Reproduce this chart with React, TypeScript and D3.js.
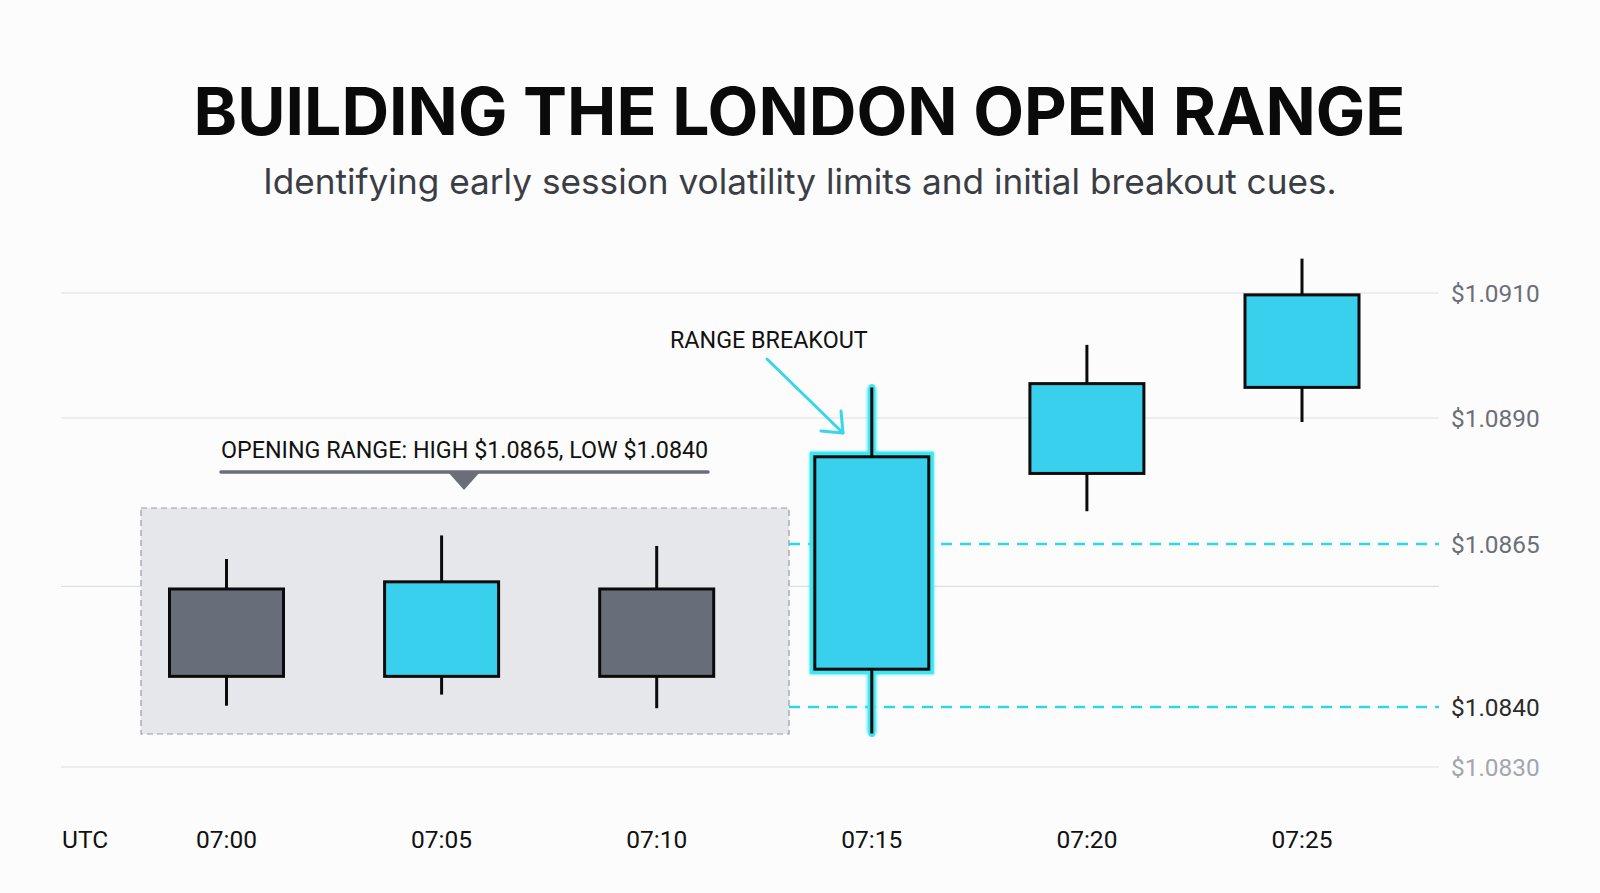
import * as d3 from "d3";

// candle data
const times = ["07:00", "07:05", "07:10", "07:15", "07:20", "07:25"];
const opens = [1.08581, 1.08447, 1.08581, 1.08458, 1.0879, 1.08949];
const closes = [1.08447, 1.08592, 1.08447, 1.08823, 1.08955, 1.09097];
const highs = [1.08627, 1.08667, 1.08647, 1.08949, 1.09017, 1.09155];
const lows = [1.08402, 1.08419, 1.08398, 1.08356, 1.08715, 1.08892];

// price labels on the right (the axis is not evenly spaced in the picture)
const priceTicks = [1.091, 1.089, 1.0865, 1.084, 1.083];
const gridValues = [1.091, 1.089, 1.08585, 1.083];
const rangeHigh = 1.0865;
const rangeLow = 1.084;
const openingCount = 3; // first three candles form the range
const breakoutIndex = 3;

const W = 1600;
const H = 893;
const CYAN = "#38d0ec";
const GREY = "#676d79";

export default function App() {
  const x = d3.scalePoint<string>().domain(times).range([226.5, 1302]);
  const y = d3
    .scaleLinear()
    .domain([1.083, 1.084, 1.0865, 1.089, 1.091])
    .range([767, 707, 544, 418, 293]);

  const bodyW = 114;
  const gridX0 = 61;
  const gridX1 = 1439;

  const boxX0 = 141;
  const boxX1 = 789;
  const boxY0 = 508;
  const boxY1 = 734;

  const bracketX0 = 221;
  const bracketX1 = 708;
  const bracketY = 472;
  const bracketMid = 464;

  const arrowStart: [number, number] = [767, 359];
  const arrowEnd: [number, number] = [843, 433];

  const fmt = (v: number) => "$" + d3.format(".4f")(v);
  const tickColor = (v: number) => (v === rangeLow ? "#2b2b2b" : v === 1.083 ? "#a3a6ad" : "#6b6f78");

  return (
    <div style={{ position: "fixed", left: 0, top: 0, width: W, height: H, background: "#fcfcfc" }}>
      <svg width={W} height={H} style={{ display: "block" }}>
        <rect width={W} height={H} fill="#fcfcfc" />
        <defs>
          <filter id="glow" x="-30%" y="-30%" width="160%" height="160%">
            <feGaussianBlur stdDeviation="1.5" />
          </filter>
        </defs>

        <text
          x={799.5}
          y={135}
          textAnchor="middle"
          fontFamily="Inter, 'Noto Sans', sans-serif"
          fontWeight={700}
          fontSize={66}
          fill="#0a0a0a"
        >
          BUILDING THE LONDON OPEN RANGE
        </text>
        <text
          x={800}
          y={194}
          textAnchor="middle"
          fontFamily="Inter, 'Noto Sans', sans-serif"
          fontSize={35.2}
          fill="#3b3d45"
        >
          Identifying early session volatility limits and initial breakout cues.
        </text>

        {/* grid */}
        {gridValues.map((v) => (
          <line key={v} x1={gridX0} x2={gridX1} y1={y(v)} y2={y(v)} stroke="#dcdde0" strokeWidth={1.2} />
        ))}

        {/* price labels */}
        {priceTicks.map((v) => (
          <text
            key={v}
            x={1451}
            y={y(v)}
            dy="0.35em"
            fontFamily="Roboto, sans-serif"
            fontSize={24.4}
            fill={tickColor(v)}
          >
            {fmt(v)}
          </text>
        ))}

        {/* opening range box */}
        <rect
          x={boxX0}
          y={boxY0}
          width={boxX1 - boxX0}
          height={boxY1 - boxY0}
          fill="#e6e7ea"
          stroke="#9a9ca3"
          strokeWidth={1.2}
          strokeDasharray="6,4"
        />

        {/* range high/low dashed lines */}
        {[rangeHigh, rangeLow].map((v) => (
          <line
            key={v}
            x1={boxX1}
            x2={gridX1}
            y1={y(v)}
            y2={y(v)}
            stroke="#2fd6e8"
            strokeWidth={2.5}
            strokeDasharray="11,8"
          />
        ))}

        {/* opening range annotation */}
        <text x={bracketX0} y={458} fontFamily="Roboto, sans-serif" fontSize={23.3} fill="#111">
          OPENING RANGE: HIGH {fmt(rangeHigh)}, LOW {fmt(rangeLow)}
        </text>
        <line x1={bracketX0} x2={bracketX1} y1={bracketY} y2={bracketY} stroke="#6b6e78" strokeWidth={3.5} strokeLinecap="round" />
        <path
          d={`M${bracketMid - 16},${bracketY} L${bracketMid + 16},${bracketY} L${bracketMid},${bracketY + 18} Z`}
          fill="#6b6e78"
        />

        {/* breakout annotation */}
        <text x={670} y={348} fontFamily="Roboto, sans-serif" fontSize={23.3} fill="#111">
          RANGE BREAKOUT
        </text>
        <g stroke="#38d6ea" strokeWidth={3} fill="none" strokeLinecap="round" strokeLinejoin="round">
          <line x1={arrowStart[0]} y1={arrowStart[1]} x2={arrowEnd[0]} y2={arrowEnd[1]} />
          <path d={`M${arrowEnd[0] - 2},${arrowEnd[1] - 22} L${arrowEnd[0]},${arrowEnd[1]} L${arrowEnd[0] - 22},${arrowEnd[1] - 2}`} />
        </g>

        {/* candles */}
        {times.map((t, i) => {
          const cx = x(t)!;
          const up = closes[i] >= opens[i];
          const top = y(Math.max(opens[i], closes[i]));
          const bot = y(Math.min(opens[i], closes[i]));
          const glow = i === breakoutIndex;
          return (
            <g key={t}>
              {glow && (
                <g stroke="#3fe6f2" fill="none" filter="url(#glow)">
                  <line x1={cx} x2={cx} y1={y(highs[i])} y2={y(lows[i])} strokeWidth={9} />
                  <rect x={cx - bodyW / 2} y={top} width={bodyW} height={bot - top} strokeWidth={10} />
                </g>
              )}
              {glow && (
                <g stroke="#3fe6f2" fill="none">
                  <line x1={cx} x2={cx} y1={y(highs[i])} y2={y(lows[i])} strokeWidth={7} strokeLinecap="round" />
                  <rect x={cx - bodyW / 2 - 1} y={top - 1} width={bodyW + 2} height={bot - top + 2} strokeWidth={8} />
                </g>
              )}
              <line x1={cx} x2={cx} y1={y(highs[i])} y2={y(lows[i])} stroke="#0b0b0b" strokeWidth={3} />
              <rect
                x={cx - bodyW / 2}
                y={top}
                width={bodyW}
                height={bot - top}
                fill={up ? CYAN : GREY}
                stroke="#0b0b0b"
                strokeWidth={3}
              />
            </g>
          );
        })}

        {/* time axis */}
        <text x={62} y={848} fontFamily="Roboto, sans-serif" fontSize={24.5} fill="#111">
          UTC
        </text>
        {times.map((t) => (
          <text key={t} x={x(t)} y={848} textAnchor="middle" fontFamily="Roboto, sans-serif" fontSize={24.5} fill="#111">
            {t}
          </text>
        ))}
      </svg>
    </div>
  );
}
